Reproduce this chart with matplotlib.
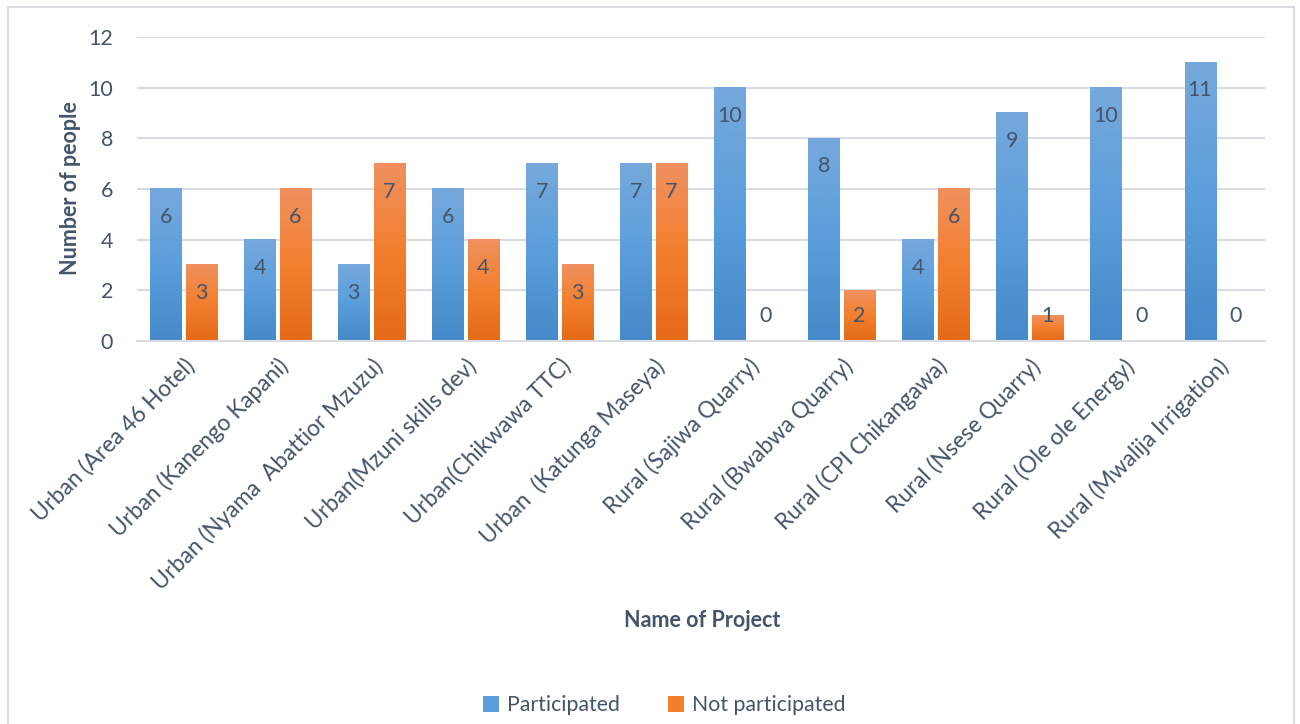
import numpy as np
import matplotlib
matplotlib.use('Agg')
import matplotlib.pyplot as plt
from matplotlib.colors import LinearSegmentedColormap
from matplotlib.patches import Rectangle, Patch

plt.rcParams['font.family'] = ['Lato', 'DejaVu Sans']

projects = [
    'Urban (Area 46 Hotel)', 'Urban (Kanengo Kapani)', 'Urban (Nyama  Abattior Mzuzu)',
    'Urban(Mzuni skills dev)', 'Urban(Chikwawa TTC)', 'Urban  (Katunga Maseya)',
    'Rural (Sajiwa Quarry)', 'Rural (Bwabwa Quarry)', 'Rural (CPI Chikangawa)',
    'Rural (Nsese Quarry)', 'Rural (Ole ole Energy)', 'Rural (Mwalija Irrigation)',
]
participated = [6, 4, 3, 6, 7, 7, 10, 8, 4, 9, 10, 11]
not_participated = [3, 6, 7, 4, 3, 7, 0, 2, 6, 1, 0, 0]

TEXT = '#44546A'
GRID = '#D9DDE3'
blue_cmap = LinearSegmentedColormap.from_list('blue', ['#4689C8', '#5B9EDC', '#76A9DC'])
orange_cmap = LinearSegmentedColormap.from_list('orange', ['#E46A17', '#F37F2E', '#F09160'])

fig = plt.figure(figsize=(13, 7.24), dpi=100)
ax = fig.add_axes([0.105, 0.529, 0.868, 0.42])

x = np.arange(len(projects))
w = 0.33
off = 0.19
bars_p = ax.bar(x - off, participated, w, color='none', zorder=2)
bars_n = ax.bar(x + off, not_participated, w, color='none', zorder=2)

# vertical gradient fill for each bar
grad = np.linspace(0, 1, 256).reshape(-1, 1)
for bars, cmap in ((bars_p, blue_cmap), (bars_n, orange_cmap)):
    for b in bars:
        h = b.get_height()
        if h <= 0:
            continue
        x0 = b.get_x()
        ax.imshow(grad, cmap=cmap, origin='lower', aspect='auto',
                  extent=(x0, x0 + b.get_width(), 0, h), zorder=2, interpolation='bicubic')
ax.set_xlim(-0.5, len(projects) - 0.5)
ax.set_ylim(0, 12)

# value labels inside the bar top, but never closer than 25px to the baseline
base_px = ax.transData.transform((0, 0))[1]
for bars in (bars_p, bars_n):
    for b in bars:
        h = b.get_height()
        cx = b.get_x() + b.get_width() / 2
        top_px = ax.transData.transform((0, h))[1]
        dy = max(-28, base_px + 25 - top_px)
        ax.annotate(f'{h:g}', (cx, h), xytext=(0, dy), textcoords='offset pixels',
                    ha='center', va='center', fontsize=15.5, color=TEXT, zorder=3)

ax.set_yticks(range(0, 13, 2))
ax.grid(axis='y', color=GRID, linewidth=1.5, zorder=0)
ax.set_axisbelow(True)
for s in ['top', 'right', 'left']:
    ax.spines[s].set_visible(False)
ax.spines['bottom'].set_color(GRID)
ax.spines['bottom'].set_linewidth(1.5)
ax.tick_params(axis='both', length=0, colors=TEXT, labelsize=15.5)
ax.tick_params(axis='y', pad=17)
ax.set_xticks(x)
ax.set_xticklabels(projects, rotation=45, ha='right', rotation_mode='anchor', fontsize=16.3)
ax.tick_params(axis='x', pad=10)

fig.text(0.054, 0.74, 'Number of people', rotation=90, ha='center', va='center',
         fontsize=15.5, fontweight='bold', color=TEXT)
fig.text(0.54, 0.143, 'Name of Project', ha='center', va='center',
         fontsize=15.5, fontweight='bold', color=TEXT)

handles = [Patch(facecolor='#5B9EDC', label='Participated'),
           Patch(facecolor='#F37F2E', label='Not participated')]
fig.legend(handles=handles, loc='center', bbox_to_anchor=(0.511, 0.026), ncol=2,
           frameon=False, fontsize=15.3, labelcolor=TEXT, handlelength=0.75,
           handleheight=0.75, handletextpad=0.35, columnspacing=2.3)

fig.patches.append(Rectangle((0.006, -0.05), 0.989, 1.04, transform=fig.transFigure,
                             fill=False, edgecolor=GRID, linewidth=1.5))

fig.savefig('out.png', dpi=100)
